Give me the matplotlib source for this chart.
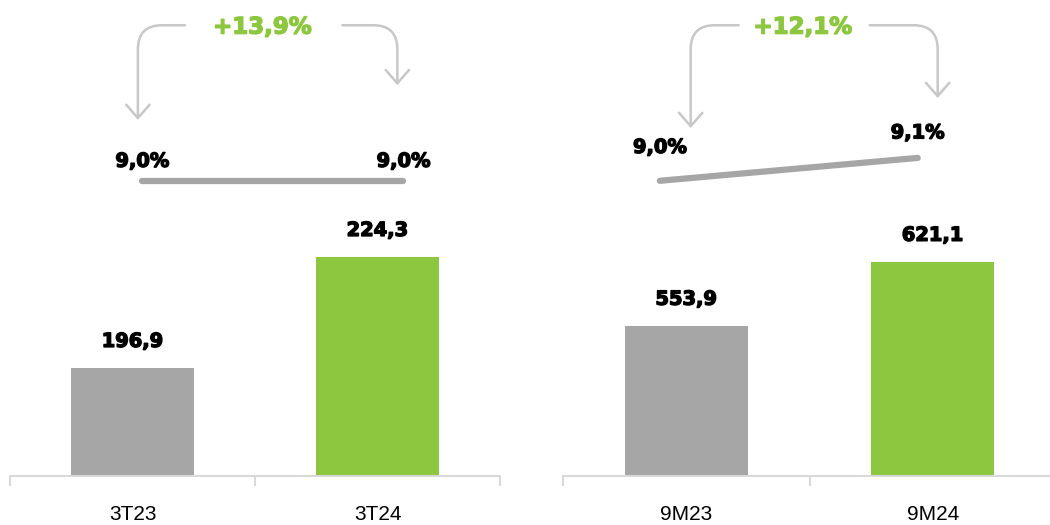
import matplotlib
matplotlib.use('Agg')
import matplotlib.pyplot as plt
import matplotlib.patheffects as pe
import numpy as np

# data
left_cats = ['3T23', '3T24']
left_vals = [196.9, 224.3]
left_labels = ['196,9', '224,3']
left_margin = [9.0, 9.0]
left_margin_labels = ['9,0%', '9,0%']
left_growth = '+13,9%'

right_cats = ['9M23', '9M24']
right_vals = [553.9, 621.1]
right_labels = ['553,9', '621,1']
right_margin = [9.0, 9.1]
right_margin_labels = ['9,0%', '9,1%']
right_growth = '+12,1%'

GREY = '#A6A6A6'
GREEN = '#8DC63F'
AXIS = '#D9D9D9'
ARROW = '#C8C8C8'

W, H = 1050, 525
fig = plt.figure(figsize=(W / 100, H / 100), dpi=100)


def heavy(color):
    return [pe.withStroke(linewidth=1.0, foreground=color)]


def panel(rect, cats, vals, labels, margin, margin_labels, growth, ylim, lay):
    ax = fig.add_axes(rect)
    x = np.arange(len(cats))
    ax.bar(x, vals, width=0.5, color=[GREY, GREEN], zorder=2)
    ax.set_xlim(-0.5, 1.5)
    ax.set_ylim(*ylim)
    for xi, v, lab in zip(x, vals, labels):
        ax.annotate(lab, (xi, v), xytext=(0, 19), textcoords='offset points',
                    ha='center', va='center', fontsize=14, fontweight='bold',
                    color='black', path_effects=heavy('black'))
    for s in ['top', 'right', 'left']:
        ax.spines[s].set_visible(False)
    ax.spines['bottom'].set_color(AXIS)
    ax.spines['bottom'].set_linewidth(1.5)
    ax.set_yticks([])
    ax.set_xticks(x)
    ax.set_xticklabels(cats, fontsize=15, family='Liberation Sans')
    ax.tick_params(axis='x', length=0, pad=21)
    ax.set_xticks([-0.5, 0.5, 1.5], minor=True)
    ax.tick_params(axis='x', which='minor', length=7, width=1.5, color=AXIS,
                   direction='out')

    # margin line
    tw = ax.twinx()
    tw.set_ylim(7.71, 9.79)
    tw.axis('off')
    lx = [x[0] + lay['line_dx'][0], x[1] + lay['line_dx'][1]]
    tw.plot(lx, margin, color=GREY, lw=4.5, solid_capstyle='round')
    for xi, m, lab, dy in zip(lx, margin, margin_labels, lay['lab_dy']):
        tw.annotate(lab, (xi, m), xytext=(0, dy), textcoords='offset points',
                    ha='center', va='center', fontsize=14, fontweight='bold',
                    path_effects=heavy('black'))

    # growth arrows
    ty = 0.943
    ax.text(lay['text_x'], ty, growth, transform=ax.get_xaxis_transform(),
            ha='center', va='center', fontsize=16.5, fontweight='bold', color=GREEN,
            path_effects=heavy(GREEN))
    for (sx, vx, tipy, ang) in lay['arrows']:
        ax.annotate('', xy=(vx, tipy), xycoords=('data', 'axes fraction'),
                    xytext=(sx, 0.947), textcoords=('data', 'axes fraction'),
                    arrowprops=dict(arrowstyle='->,head_length=0.8,head_width=0.7',
                                    mutation_scale=12, color=ARROW, lw=1.8,
                                    shrinkA=0, shrinkB=0,
                                    connectionstyle=f'angle,angleA={ang},angleB=90,rad=24'))
    ax.patch.set_alpha(0)
    return ax


bottom = 1 - 476 / H
panel([10 / W, bottom, 490 / W, 1 - bottom], left_cats, left_vals, left_labels,
      left_margin, left_margin_labels, left_growth, (170.2, 287.7),
      dict(line_dx=(0.04, 0.106), lab_dy=(14, 14), text_x=0.53,
           arrows=[(0.214, 0.022, 0.748, 180), (0.857, 1.081, 0.821, 0)]))
panel([563 / W, bottom, 493 / W, 1 - bottom], right_cats, right_vals, right_labels,
      right_margin, right_margin_labels, right_growth, (396.0, 896.0),
      dict(line_dx=(-0.107, -0.061), lab_dy=(24, 18), text_x=0.473,
           arrows=[(0.213, 0.018, 0.731, 180), (0.744, 1.02, 0.794, 0)]))

fig.savefig('out.png', dpi=100, facecolor='white')
